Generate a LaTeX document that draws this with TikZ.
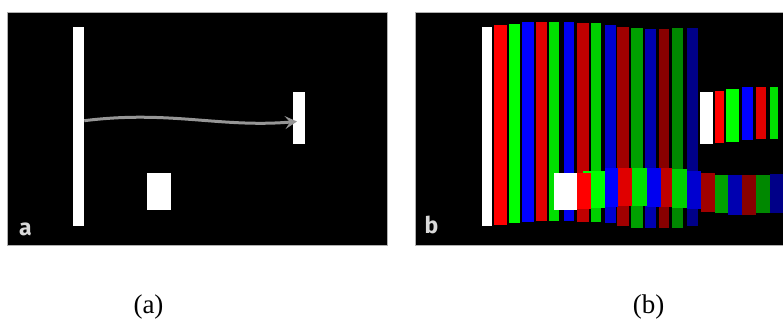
\documentclass[tikz,border=0pt]{standalone}
\usepackage{fontspec}
\setmainfont{Liberation Serif}
\newfontfamily\panelfont{Fira Sans}
\usetikzlibrary{arrows.meta}
\definecolor{rA}{HTML}{FF0000}\definecolor{gA}{HTML}{00FF00}\definecolor{bA}{HTML}{0000FF}
\definecolor{rB}{HTML}{E00000}\definecolor{gB}{HTML}{00E000}\definecolor{bB}{HTML}{0000F0}
\definecolor{rC}{HTML}{C00000}\definecolor{gC}{HTML}{00D000}\definecolor{bC}{HTML}{0000D0}
\definecolor{rD}{HTML}{A00000}\definecolor{gD}{HTML}{00A000}\definecolor{bD}{HTML}{0000B0}
\definecolor{rE}{HTML}{880000}\definecolor{gE}{HTML}{008800}\definecolor{bE}{HTML}{000088}
\definecolor{arrowgray}{HTML}{969696}
\definecolor{panelgray}{HTML}{B0B0B0}
\tikzset{
  panel/.style={fill=black, draw=panelgray, line width=0.8pt},
  panellabel/.style={text=white!85!black, font=\panelfont\bfseries\fontsize{23}{23}\selectfont, inner sep=0pt, anchor=base west},
  caption/.style={font=\fontsize{27}{27}\selectfont, inner sep=0pt},
  mover/.style={draw=arrowgray, line width=3pt, -{Stealth[length=12pt,width=13pt,inset=5pt]}}
}
\begin{document}
\begin{tikzpicture}[x=1pt,y=-1pt]
\useasboundingbox (0,0) rectangle (783,327);
% ---------- panel a ----------
\draw[panel] (7.5,12.5) rectangle (387.5,245);
\fill[white] (73.3,26.7) rectangle (84.3,225.7);
\fill[white] (293.3,91.7) rectangle (305,144.3);
\fill[white] (147,173) rectangle (171.3,210);
\coordinate (s) at (84.3,120.7);
\coordinate (t) at (297,121.5);
\draw[mover] (s) .. controls (170,110) and (220,128) .. (t);
\node[panellabel] (la) at (19,235) {a};
% ---------- panel b ----------
\draw[panel] (415.7,12.5) rectangle (790,245);
% main column of bars
\fill[white] (481.7,26.7) rectangle (491.7,226);
\fill[rA] (494.3,25.3) rectangle (506.7,224.7);
\fill[gA] (509,24.3) rectangle (520,223.3);
\fill[bA] (521.7,22) rectangle (534,222);
\fill[rB] (535.7,22) rectangle (547.3,221.3);
\fill[gB] (548.7,22) rectangle (559.3,221.3);
\fill[bB] (564,21.7) rectangle (574.3,221.3);
\fill[rC] (577.3,23.3) rectangle (588.7,222);
\fill[gC] (591,23.3) rectangle (601,222);
\fill[bC] (605,25.3) rectangle (615.7,223.3);
\fill[rD] (617,26.7) rectangle (629.3,226);
\fill[gD] (631,28) rectangle (643.3,228);
\fill[bD] (645,29) rectangle (655.7,228);
\fill[rE] (659.3,29) rectangle (669.3,228);
\fill[gE] (672.3,28) rectangle (683.3,228);
\fill[bE] (686.7,28) rectangle (697.7,226);
% small group at right
\fill[white] (700,91.7) rectangle (713.3,144);
\fill[rA] (715,90.7) rectangle (724.3,143);
\fill[gA] (726,89.3) rectangle (739.3,141.7);
\fill[bA] (741.7,86.7) rectangle (753.3,140);
\fill[rB] (756,86.7) rectangle (766,139.3);
\fill[gB] (770,86.7) rectangle (778.3,139.3);
% lower band (drawn right to left)
\fill[bE] (770,174) rectangle (783,212.7);
\fill[gE] (756,175) rectangle (770,213.3);
\fill[rE] (741.7,175) rectangle (756,215);
\fill[bD] (728.3,175) rectangle (741.7,215);
\fill[gD] (715,175) rectangle (728.3,213.3);
\fill[rD] (700.7,172.7) rectangle (715,211.7);
\fill[bC] (686.7,170.7) rectangle (700.7,209.3);
\fill[gC] (672.3,169.3) rectangle (686.7,208.3);
\fill[rC] (660.7,168.3) rectangle (672.3,207.3);
\fill[bB] (646.7,168.3) rectangle (660.7,206.7);
\fill[gB] (631.7,168.3) rectangle (646.7,206);
\fill[rB] (618.3,168.3) rectangle (631.7,206);
\fill[bA] (605,168.3) rectangle (618.3,206.7);
\fill[gA] (583,170.7) rectangle (605,208.3);
\fill[rA] (576.7,172.7) rectangle (590.7,209.3);
\fill[white] (554.3,173.3) rectangle (576.7,210);
\node[panellabel] (lb) at (424.5,233.5) {b};
% ---------- captions ----------
\node[caption] (ca) at (148.5,307) {(a)};
\node[caption] (cb) at (648.5,307) {(b)};
\end{tikzpicture}
\end{document}
